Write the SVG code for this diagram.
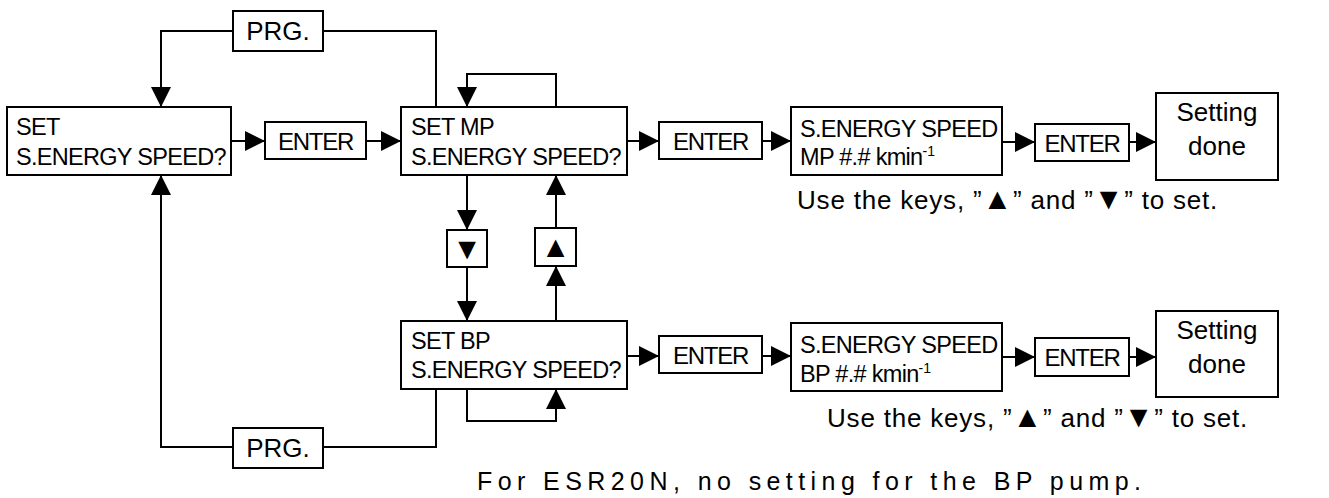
<svg xmlns="http://www.w3.org/2000/svg" width="1329" height="498" viewBox="0 0 1329 498">
<defs>
<marker id="ah" markerUnits="userSpaceOnUse" markerWidth="20" markerHeight="20" refX="20" refY="10" orient="auto">
<path d="M0,0 L20,10 L0,20 z" fill="#000"/>
</marker>
<style>
.box{fill:#fff;stroke:#000;stroke-width:2}
.t{font-family:"Liberation Sans",Arial,sans-serif;font-size:23.5px;letter-spacing:-0.7px;fill:#000}
.k{font-family:"Liberation Sans",Arial,sans-serif;font-size:24px;fill:#000;text-anchor:middle;letter-spacing:-1.3px}
.p{font-family:"Liberation Sans",Arial,sans-serif;font-size:26px;fill:#000;text-anchor:middle}
.s{font-size:14px;letter-spacing:0}
.n{font-family:"Liberation Sans",Arial,sans-serif;font-size:26px;letter-spacing:0.8px;fill:#000}
.tri{font-size:30px}
.sym{font-family:"Liberation Sans","DejaVu Sans",sans-serif;font-size:30px;fill:#000;text-anchor:middle}
.f{font-family:"Liberation Sans",Arial,sans-serif;font-size:25px;fill:#000}
.c{fill:none;stroke:#000;stroke-width:2}
.c.a{marker-end:url(#ah)}
</style>
</defs>
<rect width="1329" height="498" fill="#fff"/>
<g id="connectors">
<path class="c" d="M436,107 V31 H323"/>
<path class="c a" d="M233,31 H161 V107"/>
<path class="c a" d="M231,141 H265"/>
<path class="c a" d="M366,141 H401"/>
<path class="c a" d="M556,107 V74 H467 V107"/>
<path class="c a" d="M627,141 H659"/>
<path class="c a" d="M762,141 H791"/>
<path class="c a" d="M1002,142 H1035"/>
<path class="c a" d="M1129,142 H1156"/>
<path class="c a" d="M467,175 V230"/>
<path class="c a" d="M467,267 V321"/>
<path class="c a" d="M556,321 V266"/>
<path class="c a" d="M556,228 V175"/>
<path class="c a" d="M467,389 V421 H556 V389"/>
<path class="c a" d="M627,356 H659"/>
<path class="c a" d="M762,356 H791"/>
<path class="c a" d="M1002,357 H1035"/>
<path class="c a" d="M1129,357 H1156"/>
<path class="c" d="M436,389 V447 H323"/>
<path class="c a" d="M233,447 H161 V175"/>
</g>
<g id="prg-top"><rect class="box" x="233" y="11" width="90" height="40"/><text class="p" x="278" y="40">PRG.</text></g>
<g id="set"><rect class="box" x="7" y="107" width="224" height="68"/><text class="t" x="16" y="135">SET</text><text class="t" x="16" y="165">S.ENERGY SPEED?</text></g>
<g id="enter1"><rect class="box" x="265" y="122" width="101" height="37"/><text class="k" x="315.5" y="149.5">ENTER</text></g>
<g id="set-mp"><rect class="box" x="401" y="107" width="226" height="68"/><text class="t" x="411" y="135">SET MP</text><text class="t" x="411" y="165">S.ENERGY SPEED?</text></g>
<g id="enter2"><rect class="box" x="659" y="122" width="103" height="37"/><text class="k" x="710.5" y="149.5">ENTER</text></g>
<g id="speed-mp"><rect class="box" x="791" y="107" width="211" height="68"/><text class="t" x="800" y="137">S.ENERGY SPEED</text><text class="t" x="800" y="165">MP #.# kmin<tspan class="s" dy="-9">-1</tspan></text></g>
<g id="enter3"><rect class="box" x="1035" y="124" width="94" height="37"/><text class="k" x="1082" y="151.5">ENTER</text></g>
<g id="done-mp"><rect class="box" x="1156" y="93" width="122" height="87"/><text class="p" x="1217" y="121">Setting</text><text class="p" x="1217" y="155">done</text></g>
<g id="note-mp"><text class="n" x="797" y="209">Use the keys, ”<tspan class="tri">▲</tspan>” and ”<tspan class="tri">▼</tspan>” to set.</text></g>
<g id="key-down"><rect class="box" x="447" y="230" width="40" height="37"/><text class="sym" x="467" y="259">▼</text></g>
<g id="key-up"><rect class="box" x="535" y="228" width="41" height="38"/><text class="sym" x="555.5" y="257">▲</text></g>
<g id="set-bp"><rect class="box" x="401" y="321" width="226" height="68"/><text class="t" x="411" y="349">SET BP</text><text class="t" x="411" y="378">S.ENERGY SPEED?</text></g>
<g id="enter4"><rect class="box" x="659" y="336" width="103" height="37"/><text class="k" x="710.5" y="363.5">ENTER</text></g>
<g id="speed-bp"><rect class="box" x="791" y="323" width="211" height="68"/><text class="t" x="800" y="353">S.ENERGY SPEED</text><text class="t" x="800" y="382">BP #.# kmin<tspan class="s" dy="-9">-1</tspan></text></g>
<g id="enter5"><rect class="box" x="1035" y="338" width="94" height="38"/><text class="k" x="1082" y="365.5">ENTER</text></g>
<g id="done-bp"><rect class="box" x="1156" y="311" width="122" height="86"/><text class="p" x="1217" y="339">Setting</text><text class="p" x="1217" y="373">done</text></g>
<g id="note-bp"><text class="n" x="827" y="427">Use the keys, ”<tspan class="tri">▲</tspan>” and ”<tspan class="tri">▼</tspan>” to set.</text></g>
<g id="prg-bottom"><rect class="box" x="233" y="428" width="90" height="40"/><text class="p" x="278" y="457">PRG.</text></g>
<g id="footer"><text class="f" x="477" y="490" textLength="664" lengthAdjust="spacing">For ESR20N, no setting for the BP pump.</text></g>
</svg>
